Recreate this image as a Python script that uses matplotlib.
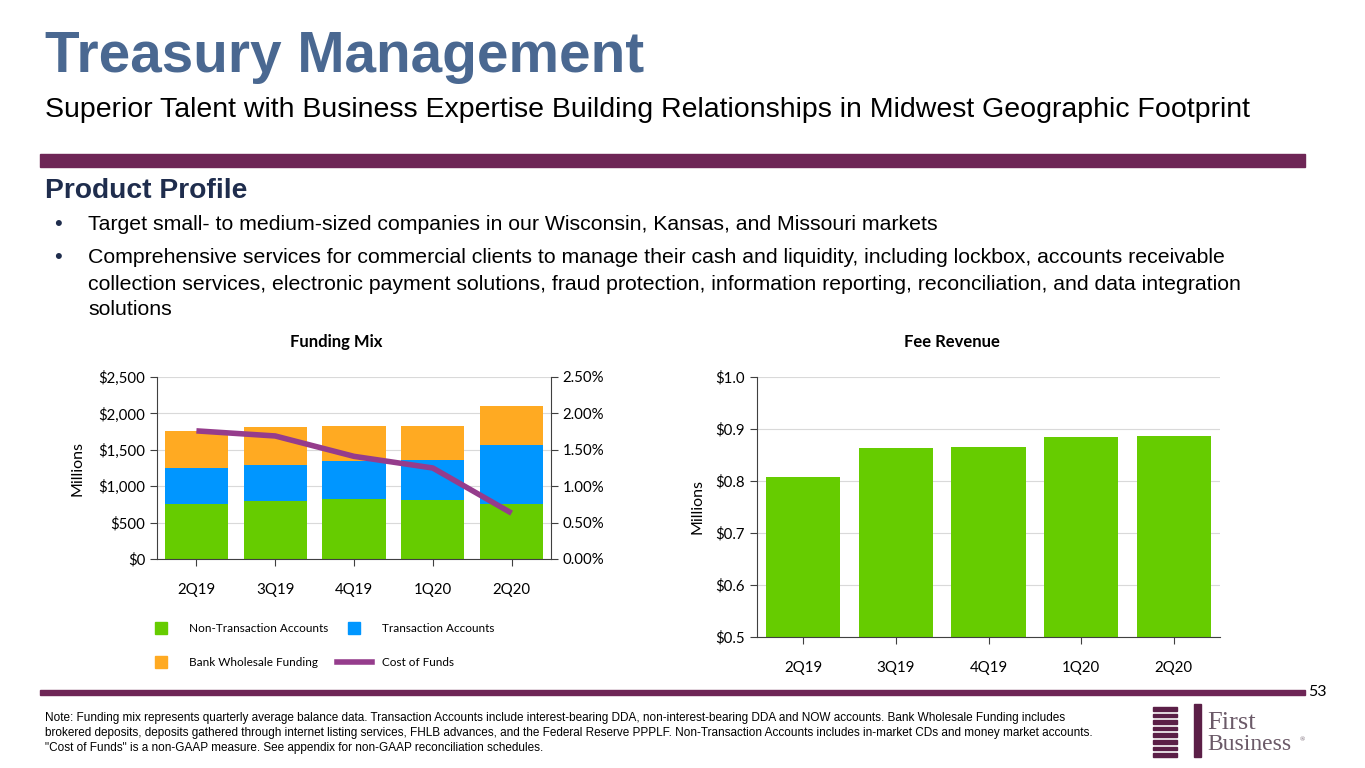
import matplotlib
matplotlib.use("Agg")
import matplotlib.pyplot as plt
from matplotlib.patches import Rectangle
from matplotlib.lines import Line2D
from matplotlib.ticker import FuncFormatter, MultipleLocator
import numpy as np

# data
quarters = ["2Q19", "3Q19", "4Q19", "1Q20", "2Q20"]
non_transaction = [757, 798, 821, 808, 761]
transaction = [489, 497, 529, 556, 808]
wholesale = [515, 520, 479, 461, 539]
cost_of_funds = [1.76, 1.69, 1.41, 1.25, 0.63]
fee_revenue = [0.808, 0.864, 0.866, 0.884, 0.886]

GREEN = "#66CC00"
BLUE = "#0096FF"
ORANGE = "#FFAA22"
LINE = "#953C8C"
PURPLE = "#6E2656"
GRID = "#D9D9D9"
CHART_FONT = ["Lato", "DejaVu Sans"]
W, H = 1365, 768

fig = plt.figure(figsize=(W / 100, H / 100), dpi=100)
fig.patch.set_facecolor("white")


def fx(px):
    return px / W


def fy(py):
    return 1 - py / H


def ftext(px, py, s, **kw):
    fig.text(fx(px), fy(py), s, **kw)


# header
ftext(45, 57, "Treasury Management", fontsize=40.9, fontweight="bold",
      color="#4A6891", family="Liberation Sans", va="center")
ftext(45, 110, "Superior Talent with Business Expertise Building Relationships in Midwest Geographic Footprint",
      fontsize=20.5, color="black", family="Liberation Sans", va="center")
fig.patches.append(Rectangle((fx(40), fy(167)), fx(1305) - fx(40), 13 / H,
                             transform=fig.transFigure, color=PURPLE, zorder=1))
ftext(45, 191, "Product Profile", fontsize=20.3, fontweight="bold",
      color="#1F2D4D", family="Liberation Sans", va="center")

bullets = [
    (225, "Target small- to medium-sized companies in our Wisconsin, Kansas, and Missouri markets", True),
    (257, "Comprehensive services for commercial clients to manage their cash and liquidity, including lockbox, accounts receivable", True),
    (284, "collection services, electronic payment solutions, fraud protection, information reporting, reconciliation, and data integration", False),
    (310, "solutions", False),
]
for y, line, dot in bullets:
    if dot:
        ftext(54, y, "\u2022", fontsize=16, color="#1F2D4D", family="Liberation Sans", va="center")
    ftext(88, y, line, fontsize=15.3, color="black", family="Liberation Sans", va="center")

# Funding Mix chart
ax = fig.add_axes([fx(157), fy(559), fx(551) - fx(157), (559 - 377) / H])
x = np.arange(len(quarters))
nt = np.array(non_transaction)
tr = np.array(transaction)
wh = np.array(wholesale)
ax.bar(x, nt, 0.8, color=GREEN, zorder=2)
ax.bar(x, tr, 0.8, bottom=nt, color=BLUE, zorder=2)
ax.bar(x, wh, 0.8, bottom=nt + tr, color=ORANGE, zorder=2)
ax.set_ylim(0, 2500)
ax.set_xlim(-0.5, 4.5)
ax.yaxis.set_major_locator(MultipleLocator(500))
ax.yaxis.set_major_formatter(FuncFormatter(lambda v, p: "${:,.0f}".format(v)))
ax.set_xticks(x)
ax.set_xticklabels(quarters)
ax.grid(axis="y", color=GRID, linewidth=0.8, zorder=0)
ax.set_axisbelow(True)
ax.spines["top"].set_visible(False)
ax.spines["right"].set_visible(False)
ax.spines["left"].set_color("#404040")
ax.spines["bottom"].set_color("#404040")
ax.tick_params(axis="both", labelsize=10.8, colors="#404040", length=5, width=0.8)
ax.tick_params(axis="x", pad=12)
for lab in ax.get_xticklabels() + ax.get_yticklabels():
    lab.set_family(CHART_FONT)
    lab.set_color("black")
ax.set_ylabel("Millions", fontsize=11.5, family=CHART_FONT, labelpad=10)

ax2 = ax.twinx()
ax2.plot(x, cost_of_funds, color=LINE, linewidth=4, solid_capstyle="butt", zorder=3)
ax2.set_ylim(0, 2.5)
ax2.yaxis.set_major_locator(MultipleLocator(0.5))
ax2.yaxis.set_major_formatter(FuncFormatter(lambda v, p: "{:.2f}%".format(v)))
for s in ["top", "left", "bottom"]:
    ax2.spines[s].set_visible(False)
ax2.spines["right"].set_color("#404040")
ax2.tick_params(axis="y", labelsize=10.8, colors="#404040", length=5, width=0.8)
for lab in ax2.get_yticklabels():
    lab.set_family(CHART_FONT)
    lab.set_color("black")

ftext(336, 342, "Funding Mix", fontsize=12, fontweight="bold", family=CHART_FONT,
      ha="center", va="center")

# legend drawn by hand to keep the two-row grid
legend_rows = [
    (161, 628, GREEN, "Non-Transaction Accounts", "box"),
    (354, 628, BLUE, "Transaction Accounts", "box"),
    (161, 662, ORANGE, "Bank Wholesale Funding", "box"),
    (354, 662, LINE, "Cost of Funds", "line"),
]
for lx, ly, col, name, kind in legend_rows:
    if kind == "box":
        fig.patches.append(Rectangle((fx(lx - 6), fy(ly + 6)), 12 / W, 12 / H,
                                     transform=fig.transFigure, color=col))
    else:
        fig.lines.append(Line2D([fx(337), fx(372)], [fy(ly), fy(ly)],
                                transform=fig.transFigure, color=col, linewidth=4))
    ftext(lx + 28, ly, name, fontsize=8.5, family=CHART_FONT, va="center")

# Fee Revenue chart
bx = fig.add_axes([fx(757), fy(637), fx(1220) - fx(757), (637 - 377) / H])
bx.bar(x, fee_revenue, 0.8, color=GREEN, zorder=2)
bx.set_ylim(0.5, 1.0)
bx.set_xlim(-0.5, 4.5)
bx.yaxis.set_major_locator(MultipleLocator(0.1))
bx.yaxis.set_major_formatter(FuncFormatter(lambda v, p: "${:.1f}".format(v)))
bx.set_xticks(x)
bx.set_xticklabels(quarters)
bx.grid(axis="y", color=GRID, linewidth=0.8, zorder=0)
bx.set_axisbelow(True)
for s in ["top", "right"]:
    bx.spines[s].set_visible(False)
bx.spines["left"].set_color("#404040")
bx.spines["bottom"].set_color("#404040")
bx.tick_params(axis="both", labelsize=10.8, colors="#404040", length=5, width=0.8)
bx.tick_params(axis="x", pad=12)
for lab in bx.get_xticklabels() + bx.get_yticklabels():
    lab.set_family(CHART_FONT)
    lab.set_color("black")
bx.set_ylabel("Millions", fontsize=11.5, family=CHART_FONT, labelpad=8)

ftext(952, 342, "Fee Revenue", fontsize=12, fontweight="bold", family=CHART_FONT,
      ha="center", va="center")

# footer
fig.patches.append(Rectangle((fx(40), fy(695)), fx(1305) - fx(40), 5 / H,
                             transform=fig.transFigure, color=PURPLE))
ftext(1327, 692, "53", fontsize=11.5, family=CHART_FONT, ha="right", va="center")

notes = [
    "Note: Funding mix represents quarterly average balance data. Transaction Accounts include interest-bearing DDA, non-interest-bearing DDA and NOW accounts. Bank Wholesale Funding includes",
    "brokered deposits, deposits gathered through internet listing services, FHLB advances, and the Federal Reserve PPPLF. Non-Transaction Accounts includes in-market CDs and money market accounts.",
    "\"Cost of Funds\" is a non-GAAP measure. See appendix for non-GAAP reconciliation schedules.",
]
for i, line in enumerate(notes):
    ftext(45, 718 + i * 15, line, fontsize=8.5, family="Liberation Sans", va="center")

# logo
LOGO = "#5B1F47"
for i in range(8):
    y0 = 707 + i * 6.6
    fig.patches.append(Rectangle((fx(1153), fy(y0 + 3.5)), 24 / W, 3.5 / H,
                                 transform=fig.transFigure, color=LOGO))
fig.patches.append(Rectangle((fx(1194), fy(757)), 7 / W, 53 / H,
                             transform=fig.transFigure, color=LOGO))
ftext(1207, 723, "First", fontsize=19, family="Liberation Serif", color="#6B5A68", va="center")
ftext(1207, 745, "Business", fontsize=17, family="Liberation Serif", color="#6B5A68", va="center")
ftext(1300, 740, "\u00ae", fontsize=5, family="Liberation Serif", color="#6B5A68", va="center")

fig.savefig("out.png", dpi=100, facecolor="white")
